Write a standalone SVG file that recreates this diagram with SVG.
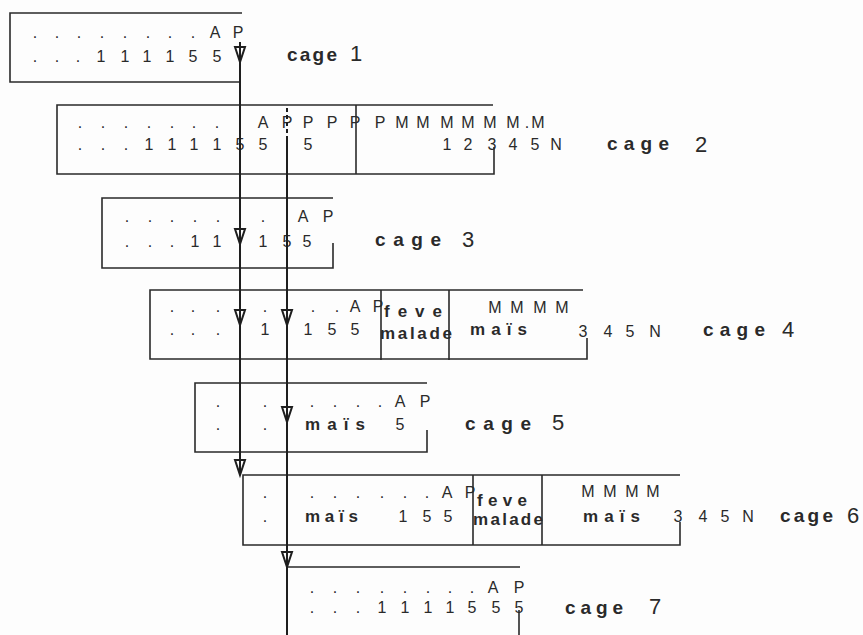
<svg xmlns="http://www.w3.org/2000/svg" width="863" height="635" viewBox="0 0 863 635">
<style>
.box{fill:none;stroke:#2a2a2a;stroke-width:1.6}
.t{font-family:"Liberation Sans",Arial,sans-serif;font-size:16px;fill:#2a2a2a;text-anchor:middle}
.w{font-family:"Liberation Sans",Arial,sans-serif;font-size:17px;font-weight:bold;fill:#2a2a2a}
.lab{font-family:"Liberation Sans",Arial,sans-serif;font-size:19px;font-weight:bold;fill:#2a2a2a}
.num{font-family:"Liberation Sans",Arial,sans-serif;font-size:22px;fill:#2a2a2a;text-anchor:middle}
.ln{fill:none;stroke:#1e1e1e;stroke-width:2}
</style>
<defs>
<path id="ah" d="M-5,-15 L0,0 L5,-15 Z" fill="none" stroke="#1e1e1e" stroke-width="2" stroke-linejoin="miter"/>
</defs>
<rect width="863" height="635" fill="#fdfdfd"/>

<g id="cage1">
<path class="box" d="M242,13 H10 V82 H240"/>
<text class="t" x="35 57 79 102 125 148 170 193 215 238" y="38">........AP</text>
<text class="t" x="35 57 78 101 125 147 170 193 217" y="62">...111155</text>
<text class="lab" x="287" y="61" textLength="50" lengthAdjust="spacing">cage</text>
<text class="num" x="356" y="61">1</text>
</g>

<g id="cage2">
<path class="box" d="M493,105 H57 V174 H494 V147"/>
<path class="box" d="M356,105 V174"/>
<text class="t" x="80 103 126 149 172 194 217 263 287 308 332 355 380 402 423 447 468 490 513 527 538" y="128">.......APPPPPMMMMMM.M</text>
<text class="t" x="80 103 126 149 172 194 217 240 263 308 447 468 492 513 535 556" y="150">...111155512345N</text>
<text class="lab" x="607" y="150" textLength="62" lengthAdjust="spacing">cage</text>
<text class="num" x="701" y="152">2</text>
</g>

<g id="cage3">
<path class="box" d="M333,198 H102 V268 H333 V243"/>
<text class="t" x="127 150 172 195 218 263 303 328" y="222">......AP</text>
<text class="t" x="127 150 172 195 217 263 287 307" y="247">...11155</text>
<text class="lab" x="375" y="246" textLength="66" lengthAdjust="spacing">cage</text>
<text class="num" x="468" y="247">3</text>
</g>

<g id="cage4">
<path class="box" d="M583,290 H150 V359 H587 V338"/>
<path class="box" d="M381,290 V360 M449,290 V360"/>
<text class="t" x="172 193 218 265 313 337 355 378" y="312">......AP</text>
<text class="t" x="172 193 218 265 308 332 355" y="335">...1155</text>
<text class="w" x="384" y="317" textLength="58" lengthAdjust="spacing" font-size="15">feve</text>
<text class="w" x="380" y="339" textLength="72" lengthAdjust="spacing" font-size="16">malade</text>
<text class="t" x="495 517 540 562" y="313">MMMM</text>
<text class="w" x="470" y="335" textLength="57" lengthAdjust="spacing">maïs</text>
<text class="t" x="583 608 630 655" y="337">345N</text>
<text class="lab" x="703" y="336" textLength="62" lengthAdjust="spacing">cage</text>
<text class="num" x="788" y="337">4</text>
</g>

<g id="cage5">
<path class="box" d="M427,383 H195 V452 H427 V430"/>
<text class="t" x="218 265 312 335 358 380 400 425" y="407">......AP</text>
<text class="t" x="218 265" y="430">..</text>
<text class="t" x="400" y="430">5</text>
<text class="w" x="305" y="430" textLength="60" lengthAdjust="spacing">maïs</text>
<text class="lab" x="465" y="430" textLength="66" lengthAdjust="spacing">cage</text>
<text class="num" x="558" y="430">5</text>
</g>

<g id="cage6">
<path class="box" d="M680,475 H243 V545 H680 V522"/>
<path class="box" d="M473,475 V545 M542,475 V545"/>
<text class="t" x="265 312 335 358 382 405 427 447 470" y="498">.......AP</text>
<text class="t" x="265" y="522">.</text>
<text class="t" x="403 427 448" y="522">155</text>
<text class="w" x="305" y="522" textLength="53" lengthAdjust="spacing">maïs</text>
<text class="w" x="477" y="506" textLength="50" lengthAdjust="spacing" font-size="16">feve</text>
<text class="w" x="473" y="525" textLength="70" lengthAdjust="spacing">malade</text>
<text class="t" x="588 610 632 653" y="497">MMMM</text>
<text class="w" x="583" y="522" textLength="57" lengthAdjust="spacing">maïs</text>
<text class="t" x="678 703 725 748" y="522">345N</text>
<text class="lab" x="780" y="522" textLength="53" lengthAdjust="spacing">cage</text>
<text class="num" x="853" y="523">6</text>
</g>

<g id="cage7">
<path class="box" d="M287,567 H520 M519,610 V635"/>
<text class="t" x="312 335 358 382 405 428 450 472 493 519" y="593">........AP</text>
<text class="t" x="312 335 358 382 405 428 450 472 496 519" y="613">...1111555</text>
<text class="lab" x="565" y="614" textLength="58" lengthAdjust="spacing">cage</text>
<text class="num" x="655" y="614">7</text>
</g>

<g id="connectors">
<path class="ln" d="M240,42 V475"/>
<path class="ln" d="M287,108 V140" stroke-dasharray="4 3"/>
<path class="ln" d="M287,140 V635"/>
<use href="#ah" x="240" y="62"/>
<use href="#ah" x="240" y="244"/>
<use href="#ah" x="240" y="325"/>
<use href="#ah" x="240" y="475"/>
<use href="#ah" x="287" y="325"/>
<use href="#ah" x="287" y="422"/>
<use href="#ah" x="287" y="567"/>
</g>
</svg>
